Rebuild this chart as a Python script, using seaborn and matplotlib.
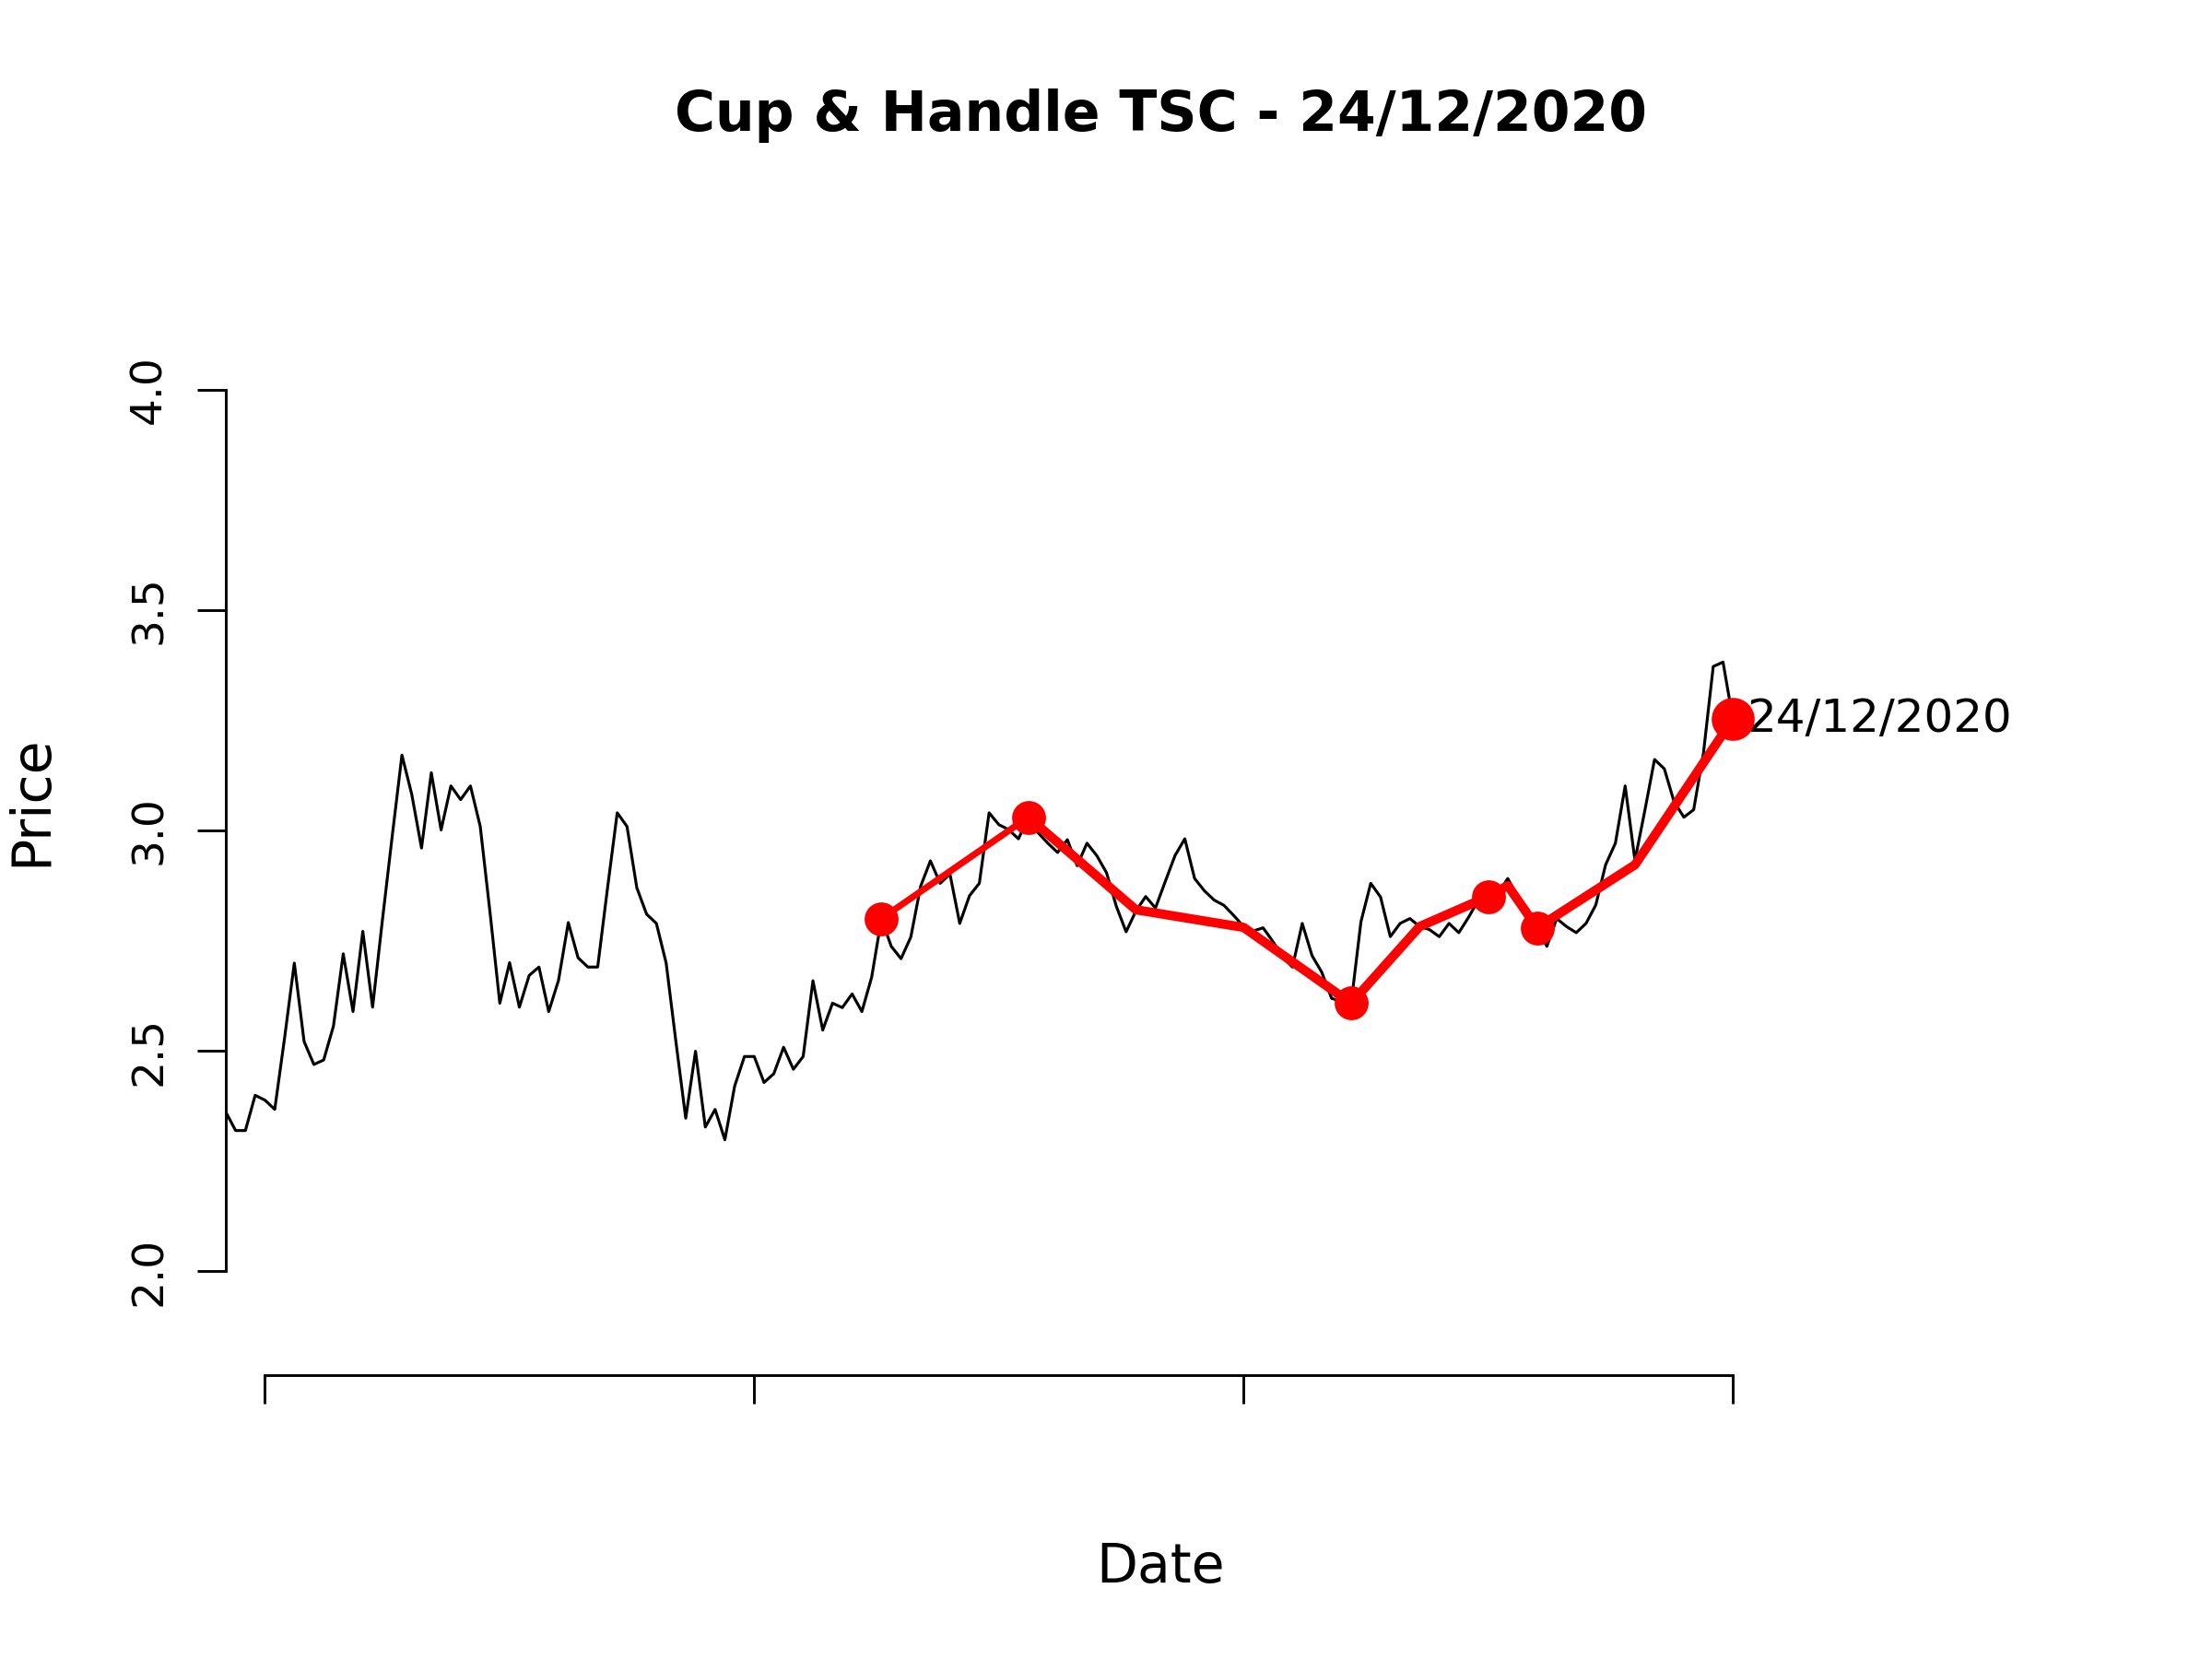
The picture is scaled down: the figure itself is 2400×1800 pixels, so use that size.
import numpy as np
import pandas as pd
import matplotlib
matplotlib.use("Agg")
import matplotlib.pyplot as plt
import seaborn as sns

# daily closing prices (index = trading day)
price = [2.361, 2.319, 2.319, 2.399, 2.388, 2.367, 2.528, 2.699, 2.521, 2.469,
         2.479, 2.556, 2.720, 2.589, 2.771, 2.599, 2.796, 2.986, 3.171, 3.082,
         2.960, 3.131, 3.001, 3.101, 3.070, 3.101, 3.009, 2.814, 2.608, 2.700,
         2.599, 2.671, 2.690, 2.589, 2.660, 2.791, 2.711, 2.690, 2.690, 2.868,
         3.040, 3.009, 2.870, 2.810, 2.789, 2.699, 2.520, 2.347, 2.499, 2.327,
         2.367, 2.298, 2.420, 2.487, 2.487, 2.428, 2.448, 2.508, 2.458, 2.487,
         2.659, 2.547, 2.608, 2.598, 2.629, 2.589, 2.667, 2.800, 2.737, 2.709,
         2.758, 2.873, 2.931, 2.880, 2.901, 2.789, 2.852, 2.880, 3.040, 3.013,
         3.002, 2.981, 3.030, 2.995, 2.971, 2.950, 2.979, 2.920, 2.971, 2.943,
         2.904, 2.828, 2.770, 2.817, 2.850, 2.824, 2.884, 2.943, 2.981, 2.891,
         2.863, 2.842, 2.830, 2.807, 2.782, 2.772, 2.779, 2.748, 2.713, 2.690,
         2.789, 2.716, 2.678, 2.619, 2.612, 2.608, 2.793, 2.880, 2.849, 2.759,
         2.789, 2.800, 2.782, 2.775, 2.759, 2.789, 2.768, 2.803, 2.842, 2.850,
         2.856, 2.891, 2.850, 2.810, 2.779, 2.737, 2.800, 2.782, 2.768, 2.789,
         2.831, 2.922, 2.971, 3.101, 2.932, 3.044, 3.161, 3.140, 3.065, 3.030,
         3.047, 3.176, 3.372, 3.382, 3.253]

# pattern line (cup & handle)
pattern_idx = [67, 82, 93, 104, 115, 122, 129, 131, 134, 144, 154]
pattern_price = [2.800, 3.030, 2.820, 2.780, 2.608, 2.782, 2.850, 2.875, 2.779, 2.922, 3.253]

# key points of the pattern
marker_idx = [67, 82, 115, 129, 134]
marker_price = [2.800, 3.030, 2.608, 2.850, 2.779]
last_idx = 154
last_price = 3.253
last_label = "24/12/2020"

title = "Cup & Handle TSC - 24/12/2020"
x_ticks = [4, 54, 104, 154]
y_ticks = [2.0, 2.5, 3.0, 3.5, 4.0]
y_ticklabels = ["2.0", "2.5", "3.0", "3.5", "4.0"]

sns.set_style("ticks")
plt.rcParams['font.family'] = ['DejaVu Sans']
plt.rcParams['text.color'] = 'black'
plt.rcParams['axes.labelcolor'] = 'black'
plt.rcParams['xtick.color'] = 'black'
plt.rcParams['ytick.color'] = 'black'

fig = plt.figure(figsize=(8, 6), dpi=300)
ax = fig.add_axes([245 / 2400, 308 / 1800, 2029 / 2400, 1247 / 1800])

df = pd.DataFrame({'idx': np.arange(len(price)), 'price': price})
sns.lineplot(data=df, x='idx', y='price', color='black', linewidth=0.75, ax=ax)

pat = pd.DataFrame({'idx': pattern_idx, 'price': pattern_price})
sns.lineplot(data=pat.iloc[:2], x='idx', y='price', color='#ff0000', linewidth=1.7, ax=ax)
sns.lineplot(data=pat.iloc[1:], x='idx', y='price', color='#ff0000', linewidth=2.4, ax=ax)

pts = pd.DataFrame({'idx': marker_idx, 'price': marker_price})
sns.scatterplot(data=pts, x='idx', y='price', color='#ff0000', s=78, linewidth=0, ax=ax, zorder=5)
sns.scatterplot(x=[last_idx], y=[last_price], color='#ff0000', s=125, linewidth=0, ax=ax, zorder=5)
ax.annotate(last_label, (last_idx, last_price), xytext=(3.6, 0), textcoords='offset points',
            ha='left', va='center', fontsize=12, color='black')

ax.set_xlim(0, 191.1)
ax.set_ylim(1.764, 4.372)

for s in ['top', 'right']:
    ax.spines[s].set_visible(False)
ax.spines['left'].set_bounds(y_ticks[0], y_ticks[-1])
ax.spines['bottom'].set_bounds(x_ticks[0], x_ticks[-1])
for s in ['left', 'bottom']:
    ax.spines[s].set_linewidth(0.7)
    ax.spines[s].set_color('black')

ax.set_xticks(x_ticks)
ax.set_xticklabels([])
ax.set_yticks(y_ticks)
ax.set_yticklabels(y_ticklabels, rotation=90, va='center', fontsize=11.3)
ax.tick_params(axis='both', which='major', direction='out', length=7.5, width=0.7,
               color='black', labelcolor='black', pad=7, bottom=True, left=True)
ax.grid(False)

ax.set_xlabel('Date', fontsize=14)
ax.set_ylabel('Price', fontsize=14)
ax.xaxis.label.set_va('center')
ax.yaxis.label.set_va('center')
ax.xaxis.set_label_coords(0.5, -0.1669)
ax.yaxis.set_label_coords(-0.104, 0.5)

ax.set_title(title, fontsize=14.4, fontweight='bold', y=1.0957, va='center', pad=0)

fig.savefig('out.png', dpi=300, facecolor='white')
